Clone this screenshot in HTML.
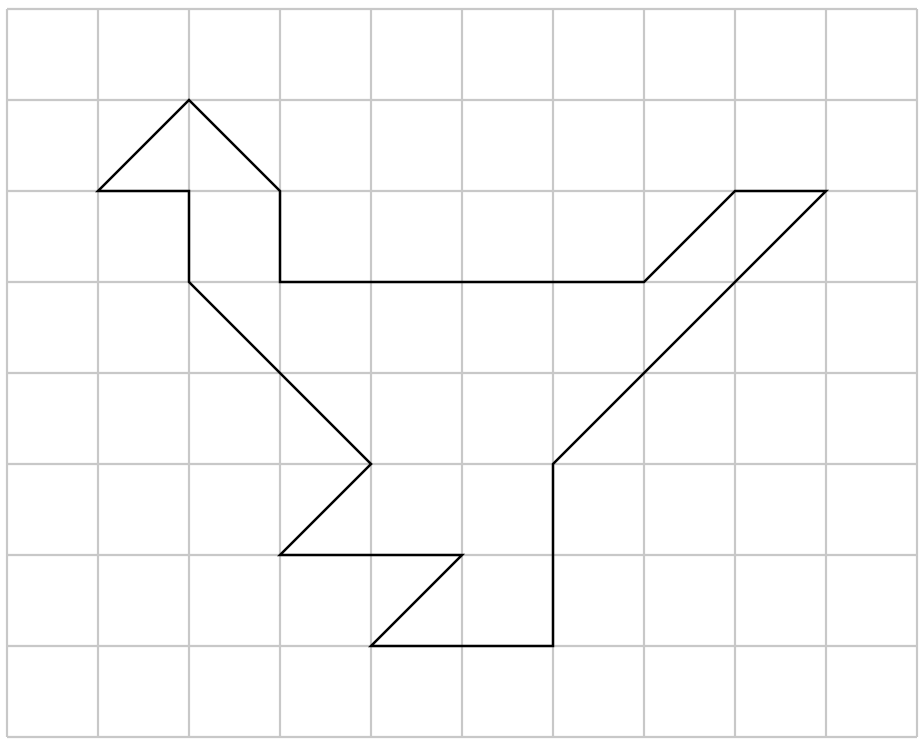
<!DOCTYPE html>
<html><head><meta charset="utf-8"><style>
html,body{margin:0;padding:0;background:#fff;}
svg{display:block;}
</style></head><body>
<svg id="chart" width="924" height="746" viewBox="0 0 924 746" xmlns="http://www.w3.org/2000/svg"></svg>
<script>
const cols = 10;
const rows = 8;
const shapeX = [1,2,3,3,7,8,9,6,6,4,5,3,4,2,2];
const shapeY = [2,1,2,3,3,2,2,5,7,7,6,6,5,3,2];
const x0 = 7, y0 = 9, cell = 91;
function sx(v){return x0 + v*cell;}
function sy(v){return y0 + v*cell;}
const svg = document.getElementById('chart');
const NS = 'http://www.w3.org/2000/svg';
const g = document.createElementNS(NS,'g');


svg.appendChild(g);
for(let i=0;i<=cols;i++){
  const l=document.createElementNS(NS,'line');
  
  
  l.setAttribute('x1',sx(i));l.setAttribute('x2',sx(i));
  l.setAttribute('y1',sy(0));l.setAttribute('y2',sy(rows));
  l.setAttribute('stroke','#c8c8c8');l.setAttribute('stroke-width','2.2');
  g.appendChild(l);
}
for(let j=0;j<=rows;j++){
  const l=document.createElementNS(NS,'line');
  
  
  l.setAttribute('y1',sy(j));l.setAttribute('y2',sy(j));
  l.setAttribute('x1',sx(0));l.setAttribute('x2',sx(cols));
  l.setAttribute('stroke','#c8c8c8');l.setAttribute('stroke-width','2.2');
  g.appendChild(l);
}
const p=document.createElementNS(NS,'polygon');


p.setAttribute('points', shapeX.map((x,i)=>sx(x)+','+sy(shapeY[i])).join(' '));
p.setAttribute('fill','none');p.setAttribute('stroke','#000');
p.setAttribute('stroke-width','2.5');p.setAttribute('stroke-linejoin','miter');
svg.appendChild(p);
</script>
</body></html>
